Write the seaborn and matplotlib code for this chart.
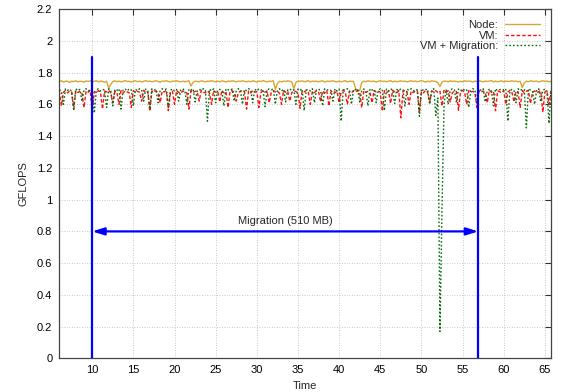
import numpy as np
import pandas as pd
import matplotlib
matplotlib.use("Agg")
import matplotlib.pyplot as plt
import seaborn as sns

# -----------------------------
# DATA (GFLOPS x 1000, sampled every 0.25 s from t = 6 s)
# -----------------------------
t_start = 6.0
t_step = 0.25

node = [
    1744, 1748, 1740, 1746, 1745, 1737, 1746, 1743, 1748, 1741, 1745, 1744,
    1740, 1747, 1744, 1748, 1742, 1745, 1749, 1741, 1746, 1744, 1739, 1745,
    1702, 1725, 1744, 1748, 1742, 1746, 1741, 1745, 1749, 1744, 1745, 1740,
    1745, 1748, 1742, 1746, 1741, 1745, 1749, 1744, 1746, 1742, 1745, 1748,
    1744, 1739, 1746, 1745, 1748, 1744, 1741, 1746, 1745, 1749, 1744, 1742,
    1746, 1741, 1745, 1748, 1716, 1738, 1746, 1744, 1742, 1748, 1745, 1741,
    1746, 1744, 1749, 1745, 1741, 1746, 1742, 1748, 1745, 1740, 1746, 1744,
    1749, 1745, 1741, 1746, 1744, 1748, 1745, 1742, 1746, 1742, 1748, 1745,
    1740, 1746, 1744, 1749, 1745, 1741, 1746, 1744, 1748, 1694, 1732, 1745,
    1742, 1746, 1744, 1748, 1745, 1741, 1699, 1738, 1746, 1744, 1748, 1742,
    1745, 1749, 1741, 1746, 1744, 1746, 1742, 1745, 1748, 1740, 1746, 1744,
    1745, 1748, 1744, 1741, 1746, 1742, 1745, 1749, 1741, 1746, 1744, 1745,
    1700, 1684, 1688, 1736, 1746, 1742, 1748, 1745, 1744, 1746, 1740, 1745,
    1748, 1744, 1746, 1742, 1745, 1749, 1741, 1746, 1742, 1745, 1748, 1744,
    1746, 1741, 1745, 1748, 1744, 1746, 1742, 1745, 1749, 1745, 1740, 1746,
    1742, 1748, 1745, 1744, 1736, 1712, 1740, 1746, 1745, 1742, 1748, 1744,
    1746, 1744, 1741, 1745, 1742, 1748, 1745, 1746, 1745, 1740, 1746, 1744,
    1748, 1745, 1742, 1746, 1744, 1746, 1749, 1741, 1746, 1742, 1745, 1748,
    1741, 1746, 1744, 1745, 1748, 1744, 1746, 1742, 1745, 1706, 1735, 1746,
    1742, 1748, 1745, 1744, 1746, 1741, 1745, 1748, 1744, 1746, 1742, 1745,
]

vm = [
    1682, 1590, 1676, 1686, 1672, 1684, 1678, 1568, 1686, 1674, 1682, 1670,
    1580, 1684, 1676, 1688, 1550, 1680, 1672, 1686, 1676, 1570, 1684, 1678,
    1688, 1672, 1610, 1682, 1676, 1600, 1686, 1670, 1684, 1678, 1672, 1580,
    1686, 1674, 1682, 1676, 1620, 1688, 1672, 1680, 1557, 1684, 1676, 1686,
    1672, 1610, 1684, 1678, 1688, 1560, 1674, 1682, 1600, 1686, 1676, 1670,
    1684, 1678, 1672, 1570, 1686, 1674, 1682, 1680, 1620, 1688, 1676, 1672,
    1684, 1670, 1600, 1686, 1676, 1682, 1615, 1688, 1672, 1680, 1580, 1684,
    1686, 1676, 1620, 1674, 1682, 1688, 1678, 1570, 1684, 1672, 1686, 1676,
    1680, 1580, 1674, 1688, 1676, 1684, 1610, 1672, 1686, 1678, 1682, 1670,
    1600, 1688, 1676, 1684, 1620, 1674, 1686, 1680, 1672, 1575, 1684, 1678,
    1688, 1676, 1600, 1682, 1674, 1686, 1680, 1615, 1684, 1672, 1688, 1590,
    1678, 1686, 1674, 1682, 1610, 1680, 1688, 1676, 1600, 1684, 1672, 1686,
    1678, 1688, 1674, 1580, 1686, 1676, 1682, 1672, 1610, 1688, 1678, 1684,
    1676, 1557, 1686, 1674, 1682, 1605, 1688, 1678, 1672, 1686, 1515, 1680,
    1688, 1676, 1600, 1684, 1674, 1682, 1686, 1550, 1680, 1672, 1688, 1676,
    1610, 1684, 1678, 1686, 1674, 1682, 1590, 1688, 1676, 1686, 1615, 1672,
    1684, 1680, 1563, 1678, 1688, 1674, 1600, 1686, 1676, 1682, 1672, 1580,
    1686, 1678, 1684, 1674, 1610, 1688, 1676, 1682, 1560, 1684, 1680, 1672,
    1686, 1600, 1678, 1688, 1674, 1615, 1684, 1676, 1580, 1686, 1672, 1682,
    1688, 1605, 1676, 1684, 1672, 1680, 1686, 1550, 1678, 1684, 1600, 1686,
]

vm_migration = [
    1692, 1684, 1600, 1698, 1688, 1696, 1682, 1568, 1698, 1686, 1694, 1620,
    1690, 1698, 1684, 1692, 1696, 1545, 1688, 1698, 1684, 1694, 1690, 1580,
    1698, 1686, 1590, 1694, 1688, 1698, 1570, 1692, 1696, 1684, 1698, 1690,
    1590, 1694, 1686, 1698, 1692, 1620, 1696, 1684, 1570, 1698, 1690, 1694,
    1610, 1686, 1698, 1692, 1696, 1580, 1688, 1698, 1684, 1694, 1620, 1690,
    1698, 1686, 1600, 1696, 1690, 1698, 1615, 1684, 1694, 1688, 1698, 1692,
    1494, 1696, 1684, 1698, 1610, 1690, 1694, 1686, 1590, 1698, 1692, 1688,
    1696, 1620, 1684, 1698, 1690, 1600, 1694, 1686, 1698, 1692, 1610, 1696,
    1684, 1698, 1690, 1694, 1585, 1686, 1698, 1692, 1696, 1600, 1688, 1698,
    1684, 1694, 1615, 1690, 1698, 1686, 1692, 1600, 1696, 1688, 1698, 1560,
    1690, 1694, 1684, 1698, 1610, 1692, 1696, 1686, 1590, 1698, 1690, 1694,
    1688, 1620, 1698, 1684, 1696, 1494, 1692, 1690, 1698, 1686, 1600, 1694,
    1692, 1698, 1615, 1688, 1696, 1684, 1590, 1698, 1690, 1694, 1610, 1686,
    1698, 1692, 1560, 1696, 1684, 1698, 1690, 1605, 1694, 1686, 1698, 1692,
    1590, 1696, 1688, 1698, 1684, 1694, 1690, 1525, 1698, 1686, 1692, 1696,
    1600, 1690, 1698, 1530, 1640, 170, 950, 1600, 1694, 1600, 1688, 1698,
    1692, 1610, 1696, 1684, 1698, 1690, 1694, 1580, 1686, 1698, 1692, 1600,
    1696, 1688, 1698, 1615, 1684, 1694, 1690, 1590, 1698, 1686, 1692, 1696,
    1690, 1698, 1494, 1684, 1694, 1688, 1610, 1698, 1686, 1696, 1692, 1452,
    1698, 1690, 1684, 1600, 1692, 1698, 1615, 1688, 1696, 1684, 1480, 1694,
]

migration_start = 10.0
migration_end = 56.9
migration_label = "Migration (510 MB)"

x_ticks = [10, 15, 20, 25, 30, 35, 40, 45, 50, 55, 60, 65]
y_ticks = [0, 0.2, 0.4, 0.6, 0.8, 1, 1.2, 1.4, 1.6, 1.8, 2, 2.2]

# -----------------------------
# BUILD DATAFRAME
# -----------------------------
time = t_start + t_step * np.arange(len(node))
df = pd.DataFrame({
    "Time": time,
    "Node": np.array(node) / 1000,
    "VM": np.array(vm) / 1000,
    "VM + Migration": np.array(vm_migration) / 1000,
})

# -----------------------------
# PLOT
# -----------------------------
sns.set_style("white")
plt.rcParams["font.family"] = ["Liberation Sans", "DejaVu Sans"]

fig = plt.figure(figsize=(5.67, 3.92), dpi=100)
ax = fig.add_axes([0.1046, 0.0855, 0.868, 0.8915])

sns.lineplot(data=df, x="Time", y="Node", ax=ax, color="#d9a62e",
             linewidth=1.0, estimator=None, label="Node:")
sns.lineplot(data=df, x="Time", y="VM", ax=ax, color="#ff1010",
             linewidth=1.0, estimator=None, label="VM:")
ax.lines[-1].set_dashes([2.5, 1.5])
sns.lineplot(data=df, x="Time", y="VM + Migration", ax=ax, color="#0b6a0b",
             linewidth=1.0, estimator=None, label="VM + Migration:")
ax.lines[-1].set_dashes([1.2, 1.5])

# migration markers
for xv in (migration_start, migration_end):
    ax.plot([xv, xv], [0, 1.9], color="#0000ff", linewidth=1.6, zorder=5)
ax.annotate("", xy=(migration_end, 0.8), xytext=(migration_start, 0.8),
            arrowprops=dict(arrowstyle="<|-|>,head_length=0.7,head_width=0.22",
                            color="#0000ff", lw=1.6, shrinkA=0, shrinkB=0),
            zorder=5)
ax.text((migration_start + migration_end) / 2, 0.835, migration_label,
        ha="center", va="bottom", fontsize=8)

ax.set_xlim(6.0, 65.8)
ax.set_ylim(0, 2.2)
ax.set_xticks(x_ticks)
ax.set_yticks(y_ticks)
ax.set_yticklabels([f"{v:g}" for v in y_ticks])
ax.set_xlabel("Time", fontsize=8, labelpad=4)
ax.set_ylabel("GFLOPS", fontsize=8, labelpad=6)

ax.grid(True, color="#b8b8b8", linestyle=(0, (1, 2)), linewidth=0.6)
ax.tick_params(direction="in", length=4, width=0.8, top=True, right=True,
               labelsize=8, colors="#333333", pad=5)
ax.tick_params(labelcolor="black")
for s in ax.spines.values():
    s.set_color("#444444")
    s.set_linewidth(0.9)

leg = ax.legend(loc="upper right", frameon=False, markerfirst=False,
                fontsize=8, handlelength=3.2, labelspacing=0.05,
                borderaxespad=0.6, handletextpad=0.6)
for txt in leg.get_texts():
    txt.set_ha("right")
leg._legend_box.align = "right"

fig.savefig("out.png", dpi=100)
